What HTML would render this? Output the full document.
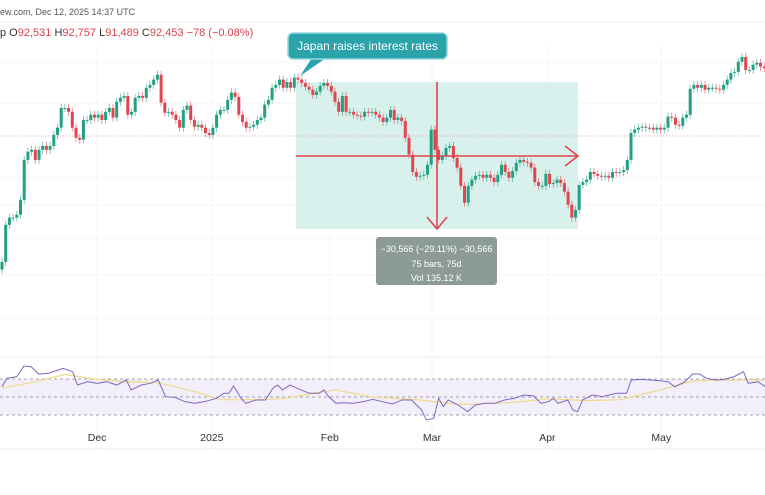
<!DOCTYPE html>
<html><head><meta charset="utf-8">
<style>
body{margin:0;background:#fff;font-family:"Liberation Sans",sans-serif;}
#wrap{position:relative;width:765px;height:495px;overflow:hidden;background:#fff}
</style></head>
<body>
<div id="wrap">
<svg id="chart" width="765" height="495" xmlns="http://www.w3.org/2000/svg"></svg>
</div>
<script>
// ---- data (prices in thousands USD) ----
const closes=[67.6,75.3,76.8,76.8,77.4,80.5,88.8,90.5,90.9,88.8,90.9,91.7,90.9,91.7,94.0,95.5,99.6,99.6,98.8,95.5,93.4,93.0,97.1,97.1,98.2,97.6,98.2,97.1,98.8,99.6,
97.6,100.9,101.7,102.1,98.2,98.8,101.7,102.1,101.7,103.8,104.4,105.5,106.5,100.7,98.6,98.8,98.2,97.1,95.5,99.2,
100.1,97.1,95.7,96.1,95.5,94.4,94.0,95.5,98.2,99.2,99.2,101.3,102.8,101.9,98.2,96.7,95.5,95.7,96.1,97.1,
97.6,100.3,101.3,103.8,104.4,105.5,103.8,105.0,103.8,105.9,105.5,104.8,104.0,103.4,102.3,103.0,104.2,104.8,104.2,103.0,
100.9,98.8,102.1,98.8,98.8,98.2,98.0,97.8,98.8,98.6,98.8,98.2,97.6,96.7,97.6,99.2,97.1,97.6,96.9,93.4,
89.9,86.3,85.3,85.5,85.7,87.8,95.1,90.9,88.8,89.7,91.3,91.7,89.2,87.2,83.4,79.9,83.4,84.7,85.5,85.7,
85.1,85.7,85.1,84.2,85.7,87.8,86.3,85.1,86.5,88.2,88.8,88.4,88.2,87.2,84.2,83.4,83.4,85.9,83.8,84.0,
84.7,84.0,82.2,79.5,76.8,78.4,83.6,84.2,84.7,86.3,85.9,85.5,85.3,85.5,85.1,86.3,86.1,86.3,86.7,88.8,
94.4,95.1,95.5,95.7,95.5,95.5,95.1,95.5,95.1,95.5,97.8,97.6,96.1,95.9,97.6,98.2,103.6,104.4,103.8,104.4,
103.4,103.8,103.8,103.6,103.4,104.4,105.5,106.9,107.1,109.2,110.2,107.5,107.5,108.6,109.0,108.2,107.9];
const firstOpen=66.0;
const rsiIdx=[0,1.3,4,5.9,7.9,9.9,12.5,16.5,19.1,20.4,23.1,25.7,28.3,31,33.6,34.9,37.6,40.2,42.2,44.2,46.8,49.4,52.1,54.7,58,60,61.3,62.6,64.6,65.9,68.6,71.2,73.2,74.5,75.8,77.8,80.4,83.1,85.7,87,88.3,90.3,92.3,94.9,97.6,100.2,102.8,105.5,108.1,110.7,113.4,114.7,116.7,118,119.3,120.6,123.3,125.9,127.9,130.5,133.2,135.8,138.4,141.1,143.7,145.7,147.7,149,150.3,152.9,154.3,155.6,156.9,159.5,162.2,166.1,168.8,170.1,172.7,175.3,178,180,181.9,184.6,186.6,188.5,190.5,193.1,195.1,197.8,200.4,201.7,204.3,206.3];
const rsiVal=[61.4,70.7,72.5,84.4,83.6,75.5,76.3,81.8,78.1,63.3,67,65.2,67,63.3,68.9,57.8,63.3,65.2,68.9,50.3,49.6,44.8,43,44.8,48.5,54.1,54.1,62.2,48.5,43,46.7,46.7,59.6,63.3,57.8,63.3,58.5,54.1,54.1,57.8,50.3,43,43.6,43,44.8,47.4,44.8,42.2,46.7,46.7,35.6,24.5,26.3,48.5,39.3,46.7,41.1,33.7,41.1,43,43,46.7,48.5,52.2,51.1,43,44.8,48.5,43,46.7,35.6,33.7,46.7,52.2,50.4,54.1,54.1,68.9,69.6,68.9,68.1,67,61.4,67,75.5,75.5,70.7,68.9,69.6,72.5,78.1,65.2,67,61.4];
const maIdx=[0,8,17,25,33,42,53,59,68,76,84,90,100,112,123,127,138,148,158,167,178,187,198,206];
const maVal=[60,66,75,70,67,66,55,47,47,48,54,58,50,47,42,42,44,48,46,47,58,68,69,69];
const xLabels=["Dec","2025","Feb","Mar","Apr","May"];
const xLabelIdx=[25.7,56.7,88.6,116.2,147.4,178.2];

// ---- scales ----
const x0=2, step=3.7;
function xS(i){return x0+i*step;}
function yS(p){return 82+(105-p)*4.81;}
function yR(r){return 397-(r-50)*0.9;}

const svg=document.getElementById('chart');
const NS='http://www.w3.org/2000/svg';
function mk(tag,attrs,parent){const e=document.createElementNS(NS,tag);for(const k in attrs)e.setAttribute(k,attrs[k]);(parent||svg).appendChild(e);return e;}

// header
let t=mk('text',{x:0,y:15,'font-size':9,fill:'#555'});


t.textContent='ew.com, Dec 12, 2025 14:37 UTC';
let hl=mk('line',{x1:0,x2:765,y1:22,y2:22,stroke:'#f0f0f0'});


let ohlc=mk('text',{x:0,y:36,'font-size':11,fill:'#d9434d'});


ohlc.innerHTML='<tspan fill="#333">p O</tspan>92,531 <tspan fill="#333">H</tspan>92,757 <tspan fill="#333">L</tspan>91,489 <tspan fill="#333">C</tspan>92,453 −78 (−0.08%)';

// grid
const gridY=[62,103,178,205,238,275,318];
gridY.forEach(y=>{const g=mk('line',{x1:0,x2:765,y1:y,y2:y,stroke:'#f5f5f5'});

});
xLabelIdx.forEach(i=>{const g=mk('line',{x1:xS(i),x2:xS(i),y1:45,y2:450,stroke:'#f5f5f5'});

});

// measurement rect
const rect=mk('rect',{x:296,y:82,width:282,height:147,fill:'#d8f1ec'});



// current price dotted line
const pl=mk('line',{x1:0,x2:765,y1:136,y2:136,stroke:'#e79aa0','stroke-dasharray':'1,2'});



// candles
const up='#22a084', dn='#e0464f';
for(let i=0;i<closes.length;i++){
  const o=i===0?firstOpen:closes[i-1], c=closes[i];
  const col=c>=o?up:dn, x=xS(i);
  const yt=yS(Math.max(o,c)), yb=yS(Math.min(o,c));
  const w=mk('line',{x1:x,x2:x,y1:yt-4,y2:yb+4,stroke:col,'stroke-width':0.8,opacity:0.7});
  
  
  const b=mk('rect',{x:x-1.5,y:yt,width:3,height:Math.max(1,yb-yt),fill:col});
  
  
}

// measurement arrows
const red='#e0464f';
[['line',{x1:296,x2:578,y1:156,y2:156}],['line',{x1:437,x2:437,y1:82,y2:229}],
 ['polyline',{points:'565,146 578,156 565,166',fill:'none'}],['polyline',{points:'427,217 437,229 447,217',fill:'none'}]].forEach(([tg,a])=>{
  const e=mk(tg,Object.assign({stroke:red,'stroke-width':1.6},a));
  
  
});
const lb=mk('g',{});


mk('rect',{x:376,y:237,width:121,height:48,rx:3,fill:'#8c9c95'},lb);
[['−30,566 (−29.11%) −30,566',252],['75 bars, 75d',267],['Vol 135.12 K',281]].forEach(([s,y])=>{
  const tx=mk('text',{x:436.5,y:y,'font-size':9,fill:'#fff','text-anchor':'middle'},lb);tx.textContent=s;});

// annotation callout
const cl=mk('polygon',{points:'300,76 312,58 326,58',fill:'#2aa3ab'});


const cb=mk('rect',{x:288,y:33,width:159,height:26,rx:5,fill:'#2aa3ab',stroke:'#8fd9dc','stroke-width':1.5});


const ct=mk('text',{x:367.5,y:50,'font-size':12,fill:'#fff','text-anchor':'middle'});


ct.textContent='Japan raises interest rates';

// RSI pane
const sep=mk('line',{x1:0,x2:765,y1:357,y2:357,stroke:'#eee'});


const band=mk('rect',{x:0,y:379,width:765,height:36,fill:'#f3effa'});


[379,397,415].forEach(y=>{const d=mk('line',{x1:0,x2:765,y1:y,y2:y,stroke:'#888','stroke-dasharray':'3,3','stroke-width':0.7});

});
const maPts=maIdx.map((i,k)=>xS(i)+','+yR(maVal[k])).join(' ');
const ma=mk('polyline',{points:maPts,fill:'none',stroke:'#f0d98a','stroke-width':1.2});


const n=Math.min(rsiIdx.length,rsiVal.length);
const rPts=[];for(let k=0;k<n;k++)rPts.push(xS(rsiIdx[k])+','+yR(rsiVal[k]));
const rl=mk('polyline',{points:rPts.join(' '),fill:'none',stroke:'#7e68c2','stroke-width':1});



// x axis
const ab=mk('line',{x1:0,x2:765,y1:449,y2:449,stroke:'#eee'});


xLabels.forEach((s,k)=>{const tx=mk('text',{x:xS(xLabelIdx[k]),y:441,'font-size':10.5,fill:'#333','text-anchor':'middle'});


tx.textContent=s;});
</script>
</body></html>
